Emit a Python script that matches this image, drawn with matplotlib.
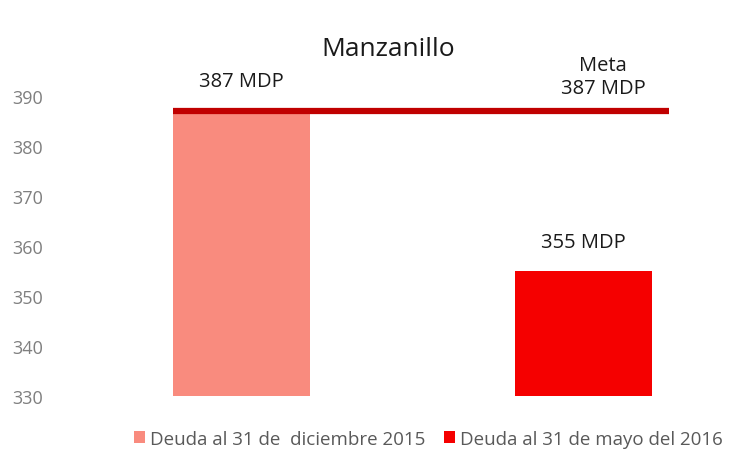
import matplotlib.pyplot as plt

plt.rcParams['font.family'] = ['Open Sans', 'DejaVu Sans']

# data
categorias = ['Deuda al 31 de  diciembre 2015', 'Deuda al 31 de mayo del 2016']
deuda = [387, 355]
meta = 387
colores = ['#F98B7E', '#F50000']
etiquetas = ['387 MDP', '355 MDP']

fig = plt.figure(figsize=(7.31, 4.60), dpi=100)
ax = fig.add_axes([60 / 731, 63 / 460, 660 / 731, 320 / 460])

x = [0, 1]
for i in range(len(deuda)):
    ax.bar(x[i], deuda[i] - 330, width=0.4, bottom=330, color=colores[i],
           label=categorias[i], zorder=2)

# linea de meta
ax.hlines(meta, -0.2, 1.25, color='#C00000', linewidth=4.5, zorder=3)

ax.set_xlim((60 - 241.5) / 342, (720 - 241.5) / 342)
ax.set_ylim(330, 394)
ax.set_yticks([330, 340, 350, 360, 370, 380, 390])
ax.tick_params(axis='y', length=0, labelsize=13, labelcolor='#7F7F7F', pad=12)
ax.set_xticks([])
for s in ax.spines.values():
    s.set_visible(False)

# etiquetas
ax.text(x[0], 393, etiquetas[0], ha='center', va='center', fontsize=14.5, color='#1A1A1A')
ax.text(x[1], deuda[1] + 5.8, etiquetas[1], ha='center', va='center', fontsize=14.5, color='#1A1A1A')
ax.text(1.057, meta + 7.0, 'Meta\n' + str(meta) + ' MDP', ha='center', va='center',
        fontsize=14.5, color='#1A1A1A', linespacing=1.2)

fig.text(388 / 731, 1 - 50 / 460, 'Manzanillo', ha='center', va='center',
         fontsize=19, color='#1A1A1A')

leg = fig.legend(loc='center', bbox_to_anchor=(428 / 731, 1 - 440 / 460), ncol=2,
                 frameon=False, fontsize=13.5, handlelength=0.6, handleheight=0.6,
                 handletextpad=0.25, columnspacing=1.0)
for t in leg.get_texts():
    t.set_color('#595959')

plt.savefig('out.png', dpi=100)
